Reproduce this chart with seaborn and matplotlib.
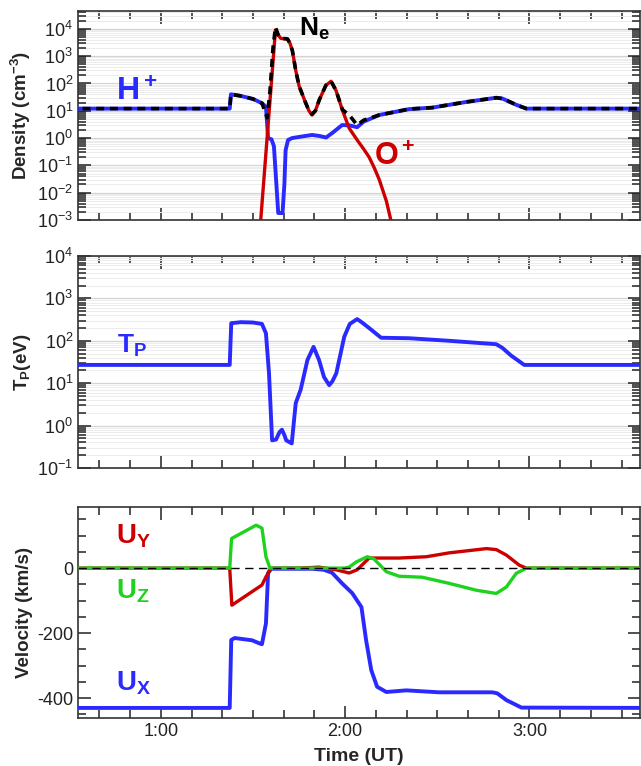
import numpy as np
import matplotlib
matplotlib.use("Agg")
import matplotlib.pyplot as plt
import matplotlib.ticker as mticker
import seaborn as sns

# === time in minutes after 0:00 UT ===
# H+ density (cm^-3)
h_t = [30, 82.4, 82.8, 86, 90, 92.9, 94.2, 94.9, 96.0, 96.8, 97.6, 98.2, 99.6, 100.2, 100.6,
       101.4, 102.7, 105, 109.2, 111.5, 113.8, 116, 119, 121.5, 123.9, 126, 131.1, 140.8,
       148.3, 159.4, 169.2, 171.2, 176, 179, 220]
h_n = [12, 12, 40, 35, 27, 19, 14, 1.0, 0.9, 0.5, 0.02, 0.0018, 0.0018, 0.02, 0.36,
       0.85, 1.0, 1.1, 1.3, 1.2, 1.05, 1.6, 3.0, 2.9, 2.5, 4.0, 7, 11.5,
       13, 21, 30, 28, 16, 12, 12]

# O+ density (cm^-3)
o_t = [92.0, 92.5, 97.3, 98.2, 99.0, 100.2, 101.2, 102.0, 102.8, 103.9, 105.0, 106.8,
       108.2, 109.2, 110.3, 111.5, 113.7, 115.4, 117.0, 119.1, 121.3, 123.9, 126,
       127.8, 129.5, 131.1, 133.4, 134.7, 135.5]
o_n = [0.0003, 0.001, 9000, 6000, 4500, 4300, 4200, 3000, 1600, 300, 80, 24,
       10, 7, 10, 24, 85, 120, 56, 10.5, 2.3, 0.85, 0.4,
       0.2, 0.08, 0.03, 0.005, 0.0012, 0.0004]

# electron density (cm^-3)
ne_t = [30, 82.4, 82.8, 86, 90, 92.9, 93.8, 94.6, 95.5, 96.5, 97.3, 98.2, 99.0, 100.2,
        101.2, 102.0, 102.8, 103.9, 105.0, 106.8, 108.2, 109.2, 110.3, 111.5, 113.7,
        115.4, 117.0, 119.1, 121.3, 123.9, 126, 131.1, 140.8, 148.3, 159.4, 169.2,
        171.2, 176, 179, 220]
ne_n = [12, 12, 40, 35, 27, 19, 10, 5.5, 50, 2000, 11500, 6000, 4600, 4400,
        4300, 3000, 1600, 300, 80, 24, 10, 7.5, 10, 24, 85,
        120, 56, 11, 7, 3.0, 4.5, 7, 11.5, 13, 21, 30,
        28, 16, 12, 12]

# proton temperature (eV)
tp_t = [30, 82.4, 82.9, 86, 90, 92.9, 94.2, 95.2, 96.2, 97.5, 98.6, 99.4, 100.2, 100.8,
        102.6, 103.9, 105.5, 107.7, 109.7, 111.5, 113.1, 114.8, 115.8, 117.1, 119.7, 121.5,
        123.9, 125.5, 127.8, 131.7, 140.8, 153.9, 169.2, 171.2, 174, 178.3, 220]
tp_v = [27, 27, 260, 275, 270, 250, 150, 17, 0.45, 0.47, 0.7, 0.8, 0.6, 0.45,
        0.38, 3.4, 7, 35, 72, 35, 14, 9, 11, 17, 125, 250,
        325, 270, 200, 118, 115, 100, 83, 68, 45, 27, 27]

# velocity components (km/s)
ux_t = [30, 82.4, 82.9, 84, 89.7, 92.2, 92.9, 94.2, 94.9, 95.9, 109.2, 113, 115.7, 119.0,
        122.3, 125.3, 126.8, 128.5, 130.4, 133.4, 139.9, 150.6, 167.9, 169.5, 172.5,
        177.4, 220]
ux_v = [-430, -430, -221, -215, -222, -232, -234, -170, -15, -2, -2, -5, -14, -47,
        -77, -120, -221, -314, -365, -381, -376, -382, -382, -385, -406,
        -429, -430]

uy_t = [30, 82.4, 83.1, 92.9, 94.2, 95.9, 105, 111.5, 117, 121.3, 123.9, 127.8, 137.6,
        146.4, 153.9, 166.0, 169.2, 172.5, 176.7, 179, 220]
uy_v = [0, 0, -114, -52, -27, 0, 0, 3, -5, -15, -5, 31, 31,
        35, 47, 60, 57, 40, 9, 0, 0]

uz_t = [30, 82.4, 83.0, 91.0, 92.9, 94.2, 95.5, 119.7, 121.3, 123.6, 127.2, 129.4,
        133.4, 137.6, 145.1, 153.9, 162.7, 169.2, 172.5, 175.7, 179, 220]
uz_v = [0, 0, 91, 132, 123, 35, 0, 0, 3, 19, 35, 28,
        -11, -25, -28, -47, -68, -78, -58, -16, 0, 0]

BLUE = "#2a2aff"
RED = "#cc0000"
GREEN = "#1ed21e"

sns.set_style("ticks")
plt.rcParams["font.family"] = ["Liberation Sans", "DejaVu Sans"]
plt.rcParams["mathtext.fontset"] = "custom"
plt.rcParams["mathtext.rm"] = "Liberation Sans"
plt.rcParams["mathtext.bf"] = "Liberation Sans:bold"
plt.rcParams["mathtext.it"] = "Liberation Sans:italic"
plt.rcParams["axes.unicode_minus"] = False

fig = plt.figure(figsize=(6.41, 7.66), dpi=100)
W = 641.0
H = 766.0
def box(top, bottom, left=78, right=640):
    return [left / W, 1 - bottom / H, (right - left) / W, (bottom - top) / H]

ax1 = fig.add_axes(box(11, 220))
ax2 = fig.add_axes(box(256, 468))
ax3 = fig.add_axes(box(507, 718))

def hhmm(v, pos):
    v = int(round(v))
    return f"{v // 60}:{v % 60:02d}"

for ax in (ax1, ax2, ax3):
    ax.set_xlim(33, 216)
    ax.xaxis.set_major_locator(mticker.MultipleLocator(60))
    ax.xaxis.set_minor_locator(mticker.MultipleLocator(10))
    ax.xaxis.set_major_formatter(mticker.FuncFormatter(hhmm))
    ax.tick_params(which="both", direction="in", top=True, right=True,
                   labelsize=13, colors="#222222", width=1.1)
    ax.tick_params(which="major", length=9)
    ax.tick_params(which="minor", length=6)
    for s in ax.spines.values():
        s.set_linewidth(1.2)
        s.set_color("#333333")
    ax.set_xlabel("")

for ax in (ax1, ax2):
    ax.set_yscale("log")
    ax.yaxis.set_major_locator(mticker.LogLocator(base=10, numticks=20))
    ax.yaxis.set_minor_locator(mticker.LogLocator(base=10, subs=np.arange(2, 10), numticks=200))
    ax.yaxis.set_minor_formatter(mticker.NullFormatter())
    ax.grid(axis="y", which="major", color="#d4d4d4", lw=0.9)
    ax.grid(axis="y", which="minor", color="#ececec", lw=0.7)
    ax.tick_params(labelbottom=False)

# --- density panel
sns.lineplot(x=h_t, y=h_n, ax=ax1, color=BLUE, lw=2.8, zorder=3)
sns.lineplot(x=o_t, y=o_n, ax=ax1, color=RED, lw=2.4, zorder=4)
sns.lineplot(x=ne_t, y=ne_n, ax=ax1, color="black", lw=2.6, zorder=5,
             linestyle=(0, (2.2, 1.6)))
ax1.set_ylim(1e-3, 4.5e4)
ax1.set_ylabel("Density (cm$^{\\mathbf{-3}}$)", fontsize=13.5, fontweight="bold")
ax1.text(45.5, 24, "$\\mathbf{H^+}$", color=BLUE, fontsize=23, va="baseline", ha="left")
ax1.text(105, 5600, "$\\mathbf{N_e}$", color="black", fontsize=19, va="baseline", ha="left")
ax1.text(129.4, 0.1, "$\\mathbf{O^+}$", color=RED, fontsize=22, va="baseline", ha="left")

# --- temperature panel
sns.lineplot(x=tp_t, y=tp_v, ax=ax2, color=BLUE, lw=2.8, zorder=3)
ax2.set_ylim(1e-1, 1e4)
ax2.set_ylabel("T$_{\\mathbf{P}}$(eV)", fontsize=13.5, fontweight="bold")
ax2.text(45.7, 51, "$\\mathbf{T_P}$", color=BLUE, fontsize=19, va="baseline", ha="left")

# --- velocity panel
sns.lineplot(x=ux_t, y=ux_v, ax=ax3, color=BLUE, lw=2.8, zorder=3)
sns.lineplot(x=uy_t, y=uy_v, ax=ax3, color=RED, lw=2.4, zorder=4)
sns.lineplot(x=uz_t, y=uz_v, ax=ax3, color=GREEN, lw=2.4, zorder=5)
ax3.axhline(0, color="black", lw=1.0, ls=(0, (6, 4)), zorder=6)
ax3.set_ylim(-461, 188)
ax3.yaxis.set_major_locator(mticker.MultipleLocator(200))
ax3.yaxis.set_minor_locator(mticker.MultipleLocator(50))
ax3.set_ylabel("Velocity (km/s)", fontsize=13.5, fontweight="bold")
ax3.set_xlabel("Time (UT)", fontsize=14, fontweight="bold", labelpad=6)
ax3.text(45.3, 77, "$\\mathbf{U_Y}$", color=RED, fontsize=20, va="baseline", ha="left")
ax3.text(45.3, -92, "$\\mathbf{U_Z}$", color=GREEN, fontsize=20, va="baseline", ha="left")
ax3.text(45.3, -375, "$\\mathbf{U_X}$", color=BLUE, fontsize=20, va="baseline", ha="left")

for ax in (ax1, ax2, ax3):
    ax.yaxis.set_label_coords(-0.08, 0.5)

fig.savefig("out.png", dpi=100)
